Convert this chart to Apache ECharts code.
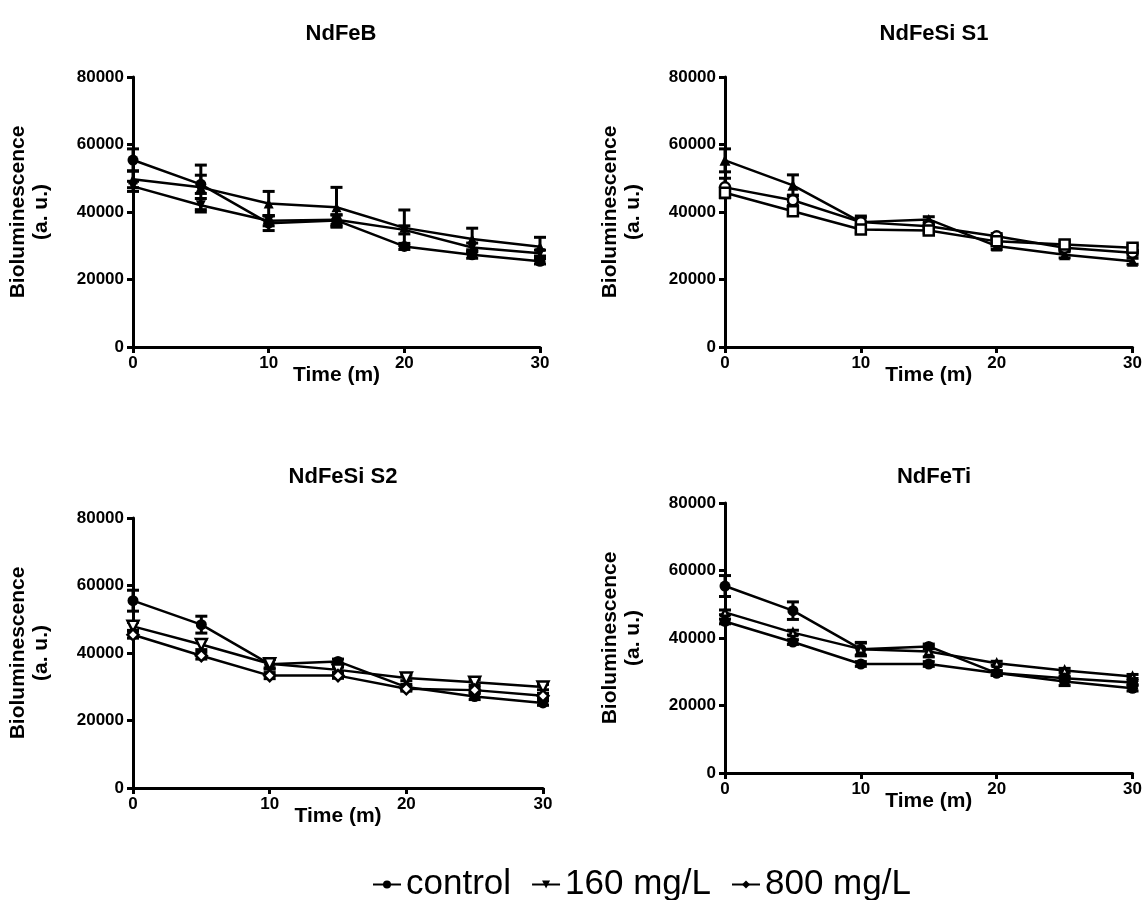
<!DOCTYPE html>
<html>
<head>
<meta charset="utf-8">
<script src="https://cdn.jsdelivr.net/npm/echarts@6/dist/echarts.min.js"></script>
<style>html,body{margin:0;padding:0;background:#fff}#c{width:1145px;height:900px}</style>
</head>
<body>
<div id="c"></div>
<script>
// ---- data ----
const times = [0, 5, 10, 15, 20, 25, 30];
const panelTitles = ['NdFeB', 'NdFeSi S1', 'NdFeSi S2', 'NdFeTi'];
const seriesNames = ['control', '160 mg/L', '800 mg/L'];
const yTicks = [0, 20000, 40000, 60000, 80000];
const xTicks = [0, 10, 20, 30];

// NdFeB
const p1Control = [55400, 48200, 36700, 37500, 29800, 27300, 25400];
const p1ControlErr = [3300, 2700, 2200, 1700, 900, 1000, 800];
const p1Low = [47600, 42000, 37400, 37700, 34700, 29500, 27800];
const p1LowErr = [1500, 2000, 1500, 1400, 1200, 1300, 900];
const p1High = [49700, 47300, 42500, 41400, 35300, 32000, 29700];
const p1HighErr = [2500, 6600, 3600, 5900, 5300, 3200, 2800];
// NdFeSi S1
const p2Control = [55300, 47900, 37000, 37800, 29900, 27300, 25400];
const p2ControlErr = [3400, 3100, 1800, 800, 1000, 900, 900];
const p2Low = [47300, 43500, 37000, 35800, 32800, 29400, 27900];
const p2LowErr = [2700, 1500, 1400, 800, 800, 800, 700];
const p2High = [45700, 40200, 34800, 34500, 31300, 30400, 29400];
const p2HighErr = [1500, 1200, 1000, 800, 800, 900, 800];
// NdFeSi S2
const p3Control = [55500, 48400, 36700, 37500, 29900, 27100, 25200];
const p3ControlErr = [3100, 2500, 1500, 700, 800, 900, 700];
const p3Low = [47900, 42500, 36800, 35000, 32600, 31300, 29900];
const p3LowErr = [1200, 1500, 1200, 800, 800, 800, 800];
const p3High = [45400, 39200, 33300, 33300, 29400, 29000, 27300];
const p3HighErr = [1000, 1000, 900, 800, 700, 800, 700];
// NdFeTi
const p4Control = [55400, 48100, 36700, 37500, 29600, 27100, 25100];
const p4ControlErr = [3100, 2600, 2000, 700, 700, 1200, 800];
const p4Low = [47600, 41600, 36700, 36000, 32500, 30400, 28600];
const p4LowErr = [700, 700, 1800, 1600, 600, 600, 600];
const p4High = [44900, 38800, 32300, 32300, 29600, 28100, 26800];
const p4HighErr = [700, 700, 700, 700, 600, 600, 600];

const panels = [
  {vals: [p1Control, p1Low, p1High], errs: [p1ControlErr, p1LowErr, p1HighErr],
   sym: [['circle',0,true,11],['triangle',180,true,10],['triangle',0,true,10]]},
  {vals: [p2Control, p2Low, p2High], errs: [p2ControlErr, p2LowErr, p2HighErr],
   sym: [['triangle',0,true,11],['circle',0,false,10],['rect',0,false,10]]},
  {vals: [p3Control, p3Low, p3High], errs: [p3ControlErr, p3LowErr, p3HighErr],
   sym: [['circle',0,true,11],['triangle',180,false,11],['diamond',0,false,11]]},
  {vals: [p4Control, p4Low, p4High], errs: [p4ControlErr, p4LowErr, p4HighErr],
   sym: [['circle',0,true,11],['triangle',0,false,7],['circle',0,true,11]]}
];

// ---- layout ----
const grids = [
  {left: 133, top: 77, width: 407, height: 270},
  {left: 725, top: 77, width: 408, height: 270},
  {left: 133, top: 518, width: 410, height: 270},
  {left: 725, top: 503, width: 408, height: 270}
];
const titleCenters = [[336, 18], [929, 18], [338, 461], [929, 461]];

const bold = {fontFamily: 'Liberation Sans', fontWeight: 'bold', color: '#000'};
const axisLine = {show: true, onZero: false, lineStyle: {color: '#000', width: 3}};
const axisTick = {show: true, inside: false, length: 6, lineStyle: {color: '#000', width: 3}};

const xAxis = grids.map((g, i) => ({
  type: 'value', gridIndex: i, min: xTicks[0], max: xTicks[xTicks.length - 1], interval: 10,
  axisLine, axisTick, splitLine: {show: false},
  axisLabel: Object.assign({fontSize: 17, margin: 8}, bold),
  name: 'Time (m)', nameLocation: 'middle', nameGap: 18, nameMoveOverlap: false,
  nameTextStyle: Object.assign({fontSize: 21}, bold)
}));
const yAxis = grids.map((g, i) => ({
  type: 'value', gridIndex: i, min: yTicks[0], max: yTicks[yTicks.length - 1], interval: 20000,
  axisLine, axisTick, splitLine: {show: false},
  axisLabel: Object.assign({fontSize: 17, margin: 9, formatter: v => String(v)}, bold),
  name: 'Bioluminescence\n(a. u.)', nameLocation: 'middle', nameGap: 80, nameMoveOverlap: false,
  nameTextStyle: Object.assign({fontSize: 21, lineHeight: 23}, bold)
}));

const series = [];
// legend-only series
const legendSym = [['circle', 0], ['triangle', 180], ['diamond', 0]];
seriesNames.forEach((n, k) => {
  series.push({name: n, type: 'line', xAxisIndex: 0, yAxisIndex: 0, data: [],
    symbol: legendSym[k][0], symbolRotate: legendSym[k][1], symbolSize: 9,
    itemStyle: {color: '#000'}, lineStyle: {color: '#000', width: 2}});
});

panels.forEach((p, i) => {
  p.vals.forEach((v, k) => {
    const s = p.sym[k];
    series.push({
      name: seriesNames[k], type: 'line', xAxisIndex: i, yAxisIndex: i,
      data: times.map((t, j) => [t, v[j]]),
      symbol: s[0], symbolRotate: s[1], symbolSize: s[3], showSymbol: true,
      itemStyle: {color: s[2] ? '#000' : '#fff', borderColor: '#000', borderWidth: s[2] ? 0 : 2.5},
      lineStyle: {color: '#000', width: 2.5}, z: 3, animation: false
    });
    series.push({
      name: seriesNames[k], type: 'custom', xAxisIndex: i, yAxisIndex: i,
      data: times.map((t, j) => [t, v[j], p.errs[k][j]]),
      encode: {x: 0, y: 1}, z: 2, animation: false,
      renderItem: function (params, api) {
        const x = api.value(0), y = api.value(1), e = api.value(2);
        const top = api.coord([x, y + e]);
        const bot = api.coord([x, y - e]);
        const hw = 6;
        const st = {stroke: '#000', lineWidth: 3};
        return {type: 'group', children: [
          {type: 'line', shape: {x1: top[0], y1: top[1], x2: bot[0], y2: bot[1]}, style: st},
          {type: 'line', shape: {x1: top[0] - hw, y1: top[1], x2: top[0] + hw, y2: top[1]}, style: st},
          {type: 'line', shape: {x1: bot[0] - hw, y1: bot[1], x2: bot[0] + hw, y2: bot[1]}, style: st}
        ]};
      }
    });
  });
});

const chart = echarts.init(document.getElementById('c'), null, {renderer: 'canvas'});
chart.setOption({
  backgroundColor: '#fff',
  animation: false,
  title: panelTitles.map((t, i) => ({
    text: t, left: titleCenters[i][0], top: titleCenters[i][1], textAlign: 'center',
    textStyle: Object.assign({fontSize: 22}, bold)
  })),
  legend: {
    data: seriesNames, left: 367, top: 862, itemWidth: 28, itemHeight: 10, itemGap: 20,
    textStyle: {fontFamily: 'Liberation Sans', fontSize: 35, color: '#000'},
    selectedMode: false
  },
  grid: grids,
  xAxis, yAxis, series
});
</script>
</body>
</html>
